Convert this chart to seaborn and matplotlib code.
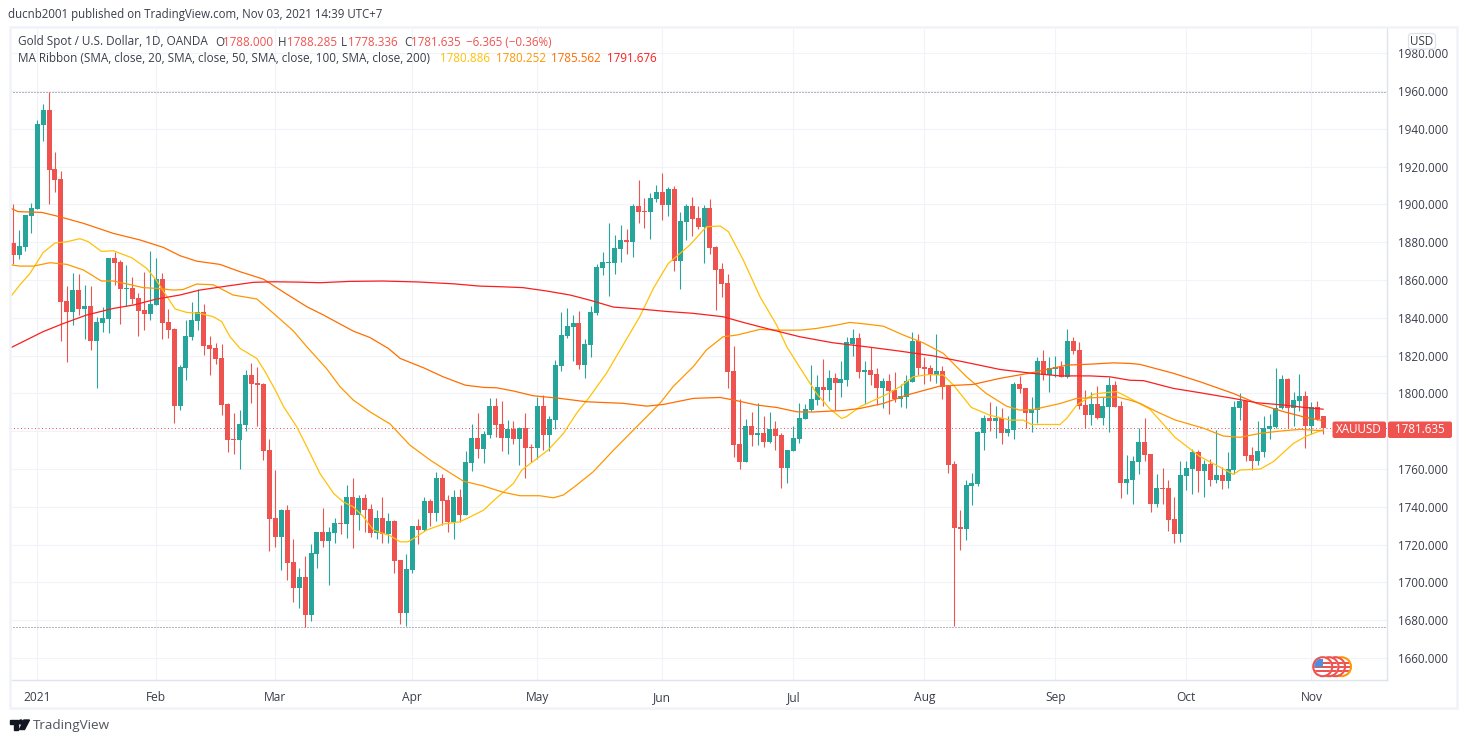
import matplotlib
matplotlib.use("Agg")
import matplotlib.pyplot as plt
import pandas as pd
import seaborn as sns
from matplotlib.patches import Circle, FancyBboxPatch, Polygon, Rectangle

# candle values, one per trading day
opens = [
    1879.6, 1873.2, 1877.5, 1893.9, 1897.6, 1942.0, 1950.0, 1918.7, 1913.4, 1848.9,
    1843.0, 1854.7, 1844.7, 1846.2, 1827.7, 1837.2, 1839.4, 1871.6, 1869.5, 1855.2,
    1855.8, 1850.5, 1844.1, 1842.0, 1846.8, 1860.5, 1837.8, 1834.1, 1793.3, 1813.4,
    1829.8, 1838.3, 1843.0, 1825.6, 1824.0, 1818.7, 1794.4, 1775.9, 1775.3, 1783.3,
    1809.7, 1805.5, 1805.0, 1770.0, 1734.1, 1724.0, 1738.3, 1710.8, 1697.0, 1702.8,
    1682.7, 1715.0, 1726.6, 1721.9, 1726.1, 1731.4, 1730.9, 1745.2, 1735.6, 1744.6,
    1738.8, 1726.1, 1734.1, 1725.6, 1732.5, 1711.8, 1683.8, 1706.5, 1729.8, 1727.7,
    1743.0, 1736.7, 1755.2, 1743.6, 1731.9, 1745.2, 1735.6, 1763.2, 1776.4, 1770.6,
    1778.0, 1793.3, 1783.8, 1776.4, 1781.2, 1775.9, 1781.7, 1771.6, 1771.1, 1793.3,
    1778.0, 1785.9, 1814.5, 1830.4, 1835.1, 1837.3, 1815.0, 1825.6, 1842.5, 1866.4,
    1869.0, 1869.0, 1876.4, 1881.2, 1880.1, 1899.2, 1896.5, 1896.0, 1902.9, 1906.6,
    1899.7, 1908.2, 1870.0, 1890.7, 1899.2, 1892.8, 1888.0, 1898.1, 1877.5, 1865.8,
    1858.4, 1811.9, 1773.2, 1763.7, 1782.8, 1778.0, 1779.0, 1774.3, 1781.2, 1778.0,
    1760.5, 1769.5, 1775.9, 1786.5, 1791.2, 1796.5, 1803.4, 1801.8, 1808.1, 1805.5,
    1807.0, 1826.1, 1829.3, 1811.3, 1812.3, 1810.2, 1802.8, 1806.5, 1801.8, 1797.0,
    1798.0, 1806.0, 1827.7, 1813.9, 1813.4, 1809.7, 1811.8, 1804.4, 1762.6, 1729.3,
    1728.2, 1751.0, 1752.0, 1779.0, 1787.0, 1785.4, 1787.0, 1779.0, 1780.6, 1805.0,
    1802.8, 1789.6, 1791.2, 1817.1, 1809.7, 1812.9, 1813.9, 1808.6, 1827.7, 1822.9,
    1793.8, 1788.5, 1794.4, 1787.0, 1792.8, 1804.4, 1793.3, 1752.6, 1754.2, 1763.7,
    1774.3, 1768.0, 1741.5, 1750.0, 1750.0, 1733.6, 1725.6, 1756.3, 1760.0, 1769.0,
    1759.0, 1762.7, 1754.2, 1756.9, 1753.7, 1759.5, 1792.3, 1796.0, 1767.4, 1764.3,
    1769.0, 1781.2, 1782.3, 1792.3, 1807.7, 1792.3, 1796.0, 1798.7, 1782.8, 1792.8,
    1788.0,
]
closes = [
    1873.2, 1878.0, 1894.4, 1898.1, 1942.5, 1950.0, 1918.2, 1912.9, 1848.4, 1843.0,
    1854.7, 1844.7, 1846.2, 1827.7, 1837.8, 1839.9, 1871.6, 1869.0, 1855.2, 1855.8,
    1850.0, 1843.6, 1842.0, 1847.3, 1860.5, 1837.2, 1833.5, 1793.3, 1814.0, 1830.4,
    1838.8, 1843.0, 1825.0, 1823.5, 1818.2, 1793.8, 1775.3, 1775.3, 1783.8, 1809.7,
    1805.0, 1804.4, 1769.5, 1733.5, 1724.0, 1738.3, 1710.2, 1697.0, 1702.8, 1682.7,
    1715.5, 1726.6, 1721.9, 1726.6, 1731.4, 1730.9, 1745.2, 1735.6, 1744.6, 1738.3,
    1726.1, 1734.1, 1725.6, 1732.5, 1711.3, 1683.8, 1707.1, 1729.8, 1727.7, 1743.0,
    1736.7, 1755.2, 1743.0, 1731.9, 1745.2, 1735.6, 1763.7, 1776.4, 1770.6, 1778.5,
    1793.3, 1783.3, 1776.4, 1781.2, 1775.9, 1781.7, 1771.1, 1771.1, 1793.3, 1778.0,
    1786.5, 1815.0, 1830.9, 1835.7, 1837.3, 1815.0, 1826.1, 1843.1, 1866.9, 1869.5,
    1869.5, 1877.0, 1881.2, 1880.1, 1899.2, 1896.0, 1896.0, 1903.4, 1906.6, 1899.7,
    1908.2, 1870.0, 1891.2, 1899.2, 1892.3, 1888.0, 1898.1, 1877.0, 1865.3, 1857.9,
    1811.3, 1772.7, 1763.7, 1782.8, 1778.0, 1779.0, 1774.3, 1781.2, 1777.5, 1760.5,
    1770.1, 1776.4, 1787.0, 1791.8, 1797.0, 1803.4, 1801.8, 1808.1, 1805.5, 1807.6,
    1827.2, 1829.3, 1811.3, 1812.3, 1809.7, 1802.8, 1806.5, 1801.2, 1797.0, 1798.6,
    1806.5, 1827.7, 1813.4, 1812.9, 1809.7, 1811.8, 1803.4, 1762.1, 1728.7, 1728.2,
    1751.5, 1752.6, 1779.5, 1787.0, 1785.4, 1787.0, 1779.0, 1781.1, 1805.0, 1802.3,
    1789.6, 1791.7, 1817.1, 1809.7, 1813.4, 1813.9, 1808.6, 1827.7, 1822.4, 1793.3,
    1788.5, 1794.4, 1787.0, 1793.3, 1804.4, 1792.8, 1752.6, 1754.7, 1764.3, 1774.3,
    1767.4, 1741.5, 1750.0, 1749.5, 1733.0, 1725.6, 1756.9, 1760.6, 1769.0, 1759.0,
    1762.7, 1754.2, 1756.9, 1753.7, 1760.0, 1792.8, 1796.0, 1766.9, 1764.3, 1769.6,
    1781.7, 1782.8, 1792.3, 1807.7, 1792.3, 1796.5, 1798.7, 1782.8, 1792.8, 1786.5,
    1781.635,
]
highs = [
    1900.2, 1886.5, 1894.4, 1900.7, 1944.7, 1953.1, 1959.5, 1927.7, 1917.7, 1856.8,
    1863.7, 1863.2, 1857.4, 1856.8, 1840.4, 1845.7, 1871.6, 1874.8, 1870.6, 1867.9,
    1861.6, 1853.1, 1864.2, 1875.3, 1871.6, 1863.7, 1844.7, 1834.6, 1815.0, 1838.8,
    1848.3, 1855.2, 1847.3, 1830.3, 1826.6, 1826.1, 1794.9, 1789.6, 1791.2, 1812.4,
    1816.1, 1814.0, 1805.5, 1775.9, 1759.5, 1738.8, 1740.9, 1722.9, 1707.6, 1713.9,
    1720.3, 1726.6, 1739.4, 1729.3, 1734.1, 1741.0, 1751.5, 1755.2, 1746.2, 1746.8,
    1741.5, 1738.3, 1745.2, 1736.7, 1733.0, 1711.8, 1715.0, 1729.8, 1733.5, 1745.2,
    1744.1, 1758.4, 1757.3, 1746.2, 1748.9, 1749.4, 1769.5, 1783.8, 1789.6, 1780.0,
    1797.5, 1797.5, 1796.0, 1786.0, 1785.4, 1782.2, 1789.6, 1773.2, 1798.1, 1799.2,
    1788.0, 1817.7, 1843.1, 1845.2, 1841.5, 1843.6, 1828.8, 1846.2, 1868.5, 1874.8,
    1890.2, 1883.8, 1889.1, 1887.0, 1900.2, 1912.9, 1903.4, 1906.0, 1910.3, 1916.6,
    1909.2, 1909.7, 1896.0, 1900.2, 1903.9, 1899.2, 1899.7, 1902.9, 1878.0, 1869.0,
    1863.2, 1825.1, 1797.0, 1786.5, 1790.2, 1794.9, 1788.0, 1790.2, 1785.4, 1779.0,
    1770.1, 1782.8, 1794.9, 1794.4, 1815.0, 1809.7, 1818.2, 1812.4, 1810.8, 1817.1,
    1829.8, 1834.0, 1831.9, 1817.1, 1824.5, 1813.4, 1808.1, 1810.2, 1811.3, 1805.0,
    1809.7, 1832.5, 1831.4, 1819.2, 1815.0, 1831.4, 1814.5, 1804.4, 1764.2, 1738.3,
    1754.1, 1757.8, 1780.1, 1788.5, 1795.4, 1793.3, 1792.2, 1788.0, 1806.0, 1809.2,
    1802.8, 1798.0, 1819.2, 1822.9, 1819.2, 1819.8, 1817.1, 1834.0, 1829.8, 1827.2,
    1801.8, 1800.7, 1803.9, 1798.1, 1808.6, 1806.5, 1796.0, 1767.4, 1766.9, 1781.7,
    1787.0, 1768.0, 1757.4, 1760.6, 1754.2, 1745.2, 1764.3, 1764.3, 1770.6, 1770.1,
    1764.8, 1765.3, 1780.7, 1761.1, 1769.0, 1796.0, 1800.2, 1796.0, 1771.7, 1785.4,
    1788.0, 1789.1, 1813.5, 1809.8, 1808.2, 1800.8, 1810.3, 1801.3, 1795.5, 1796.0,
    1788.285,
]
lows = [
    1868.5, 1871.1, 1875.3, 1884.9, 1897.6, 1933.5, 1900.2, 1906.6, 1827.7, 1816.6,
    1836.2, 1841.5, 1828.8, 1823.0, 1803.0, 1832.5, 1831.9, 1857.4, 1836.7, 1846.2,
    1847.3, 1830.2, 1833.5, 1838.8, 1846.8, 1828.8, 1829.3, 1784.5, 1791.2, 1807.1,
    1828.2, 1833.5, 1820.3, 1809.7, 1815.5, 1788.6, 1769.0, 1767.9, 1760.0, 1780.1,
    1794.9, 1782.7, 1764.7, 1716.6, 1718.7, 1706.5, 1701.2, 1689.6, 1686.4, 1676.2,
    1679.6, 1707.6, 1718.7, 1698.6, 1720.8, 1725.6, 1723.5, 1718.2, 1727.7, 1726.6,
    1724.0, 1723.0, 1720.8, 1720.8, 1705.0, 1678.0, 1676.9, 1705.0, 1720.3, 1727.2,
    1729.8, 1732.5, 1730.4, 1726.6, 1722.9, 1731.9, 1735.6, 1758.9, 1765.8, 1763.2,
    1776.4, 1776.9, 1769.5, 1767.9, 1773.2, 1762.1, 1755.2, 1763.7, 1765.3, 1770.1,
    1769.5, 1781.2, 1811.9, 1829.3, 1817.2, 1812.9, 1808.2, 1819.3, 1841.5, 1862.7,
    1851.5, 1863.2, 1869.5, 1873.8, 1872.2, 1890.2, 1887.5, 1881.7, 1901.3, 1891.8,
    1893.9, 1864.8, 1855.2, 1881.2, 1883.3, 1887.0, 1869.0, 1873.8, 1844.1, 1851.0,
    1802.9, 1766.4, 1760.0, 1763.7, 1772.2, 1772.7, 1771.6, 1773.8, 1770.1, 1750.0,
    1752.6, 1769.5, 1773.8, 1786.5, 1790.7, 1793.9, 1793.3, 1796.0, 1791.2, 1798.1,
    1803.9, 1819.8, 1808.1, 1794.4, 1804.4, 1793.8, 1792.2, 1789.1, 1795.4, 1792.8,
    1792.2, 1806.0, 1809.7, 1805.0, 1806.5, 1805.5, 1797.0, 1757.8, 1676.9, 1717.1,
    1722.4, 1740.9, 1751.0, 1770.0, 1780.1, 1776.4, 1773.2, 1777.4, 1775.8, 1800.2,
    1781.7, 1779.5, 1784.3, 1807.1, 1800.7, 1808.6, 1808.6, 1808.1, 1820.8, 1791.7,
    1781.7, 1783.2, 1786.4, 1783.2, 1779.5, 1792.8, 1744.6, 1746.7, 1741.5, 1757.4,
    1764.3, 1737.3, 1739.9, 1741.5, 1727.2, 1720.9, 1721.4, 1748.9, 1746.8, 1747.9,
    1745.2, 1751.0, 1752.6, 1749.5, 1750.0, 1757.4, 1786.0, 1764.3, 1759.5, 1762.2,
    1766.4, 1775.9, 1781.7, 1791.8, 1781.7, 1782.8, 1790.7, 1771.1, 1778.6, 1786.0,
    1778.336,
]

# moving averages, read at the bends of each line (candle number, price)
ma20_idx = [-1, 1.1, 2.8, 5, 7, 9, 11.2, 12.6, 14.8, 16.8, 19.9, 22.4, 24, 26, 27.2, 29.1, 31.3, 33.6, 35, 36.4,
            38.1, 40.9, 42.3, 44, 45.4, 47.6, 49.3, 51.5, 53.8, 55.4, 57.1, 58.8, 60.5, 63.3, 65, 66.3, 67.7, 69.4,
            72.2, 75, 77.3, 79, 80.9, 84, 85.4, 89.8, 92.4, 94.6, 96.8, 99.6, 102.4, 105.2, 107.5, 110, 113.6, 116.4,
            118.7, 120.1, 122.6, 125.4, 128.2, 129.9, 132.1, 134.9, 137.1, 139.1, 139.9, 142.2, 146.7, 148.9, 151.1,
            153.7, 156.2, 157.9, 160.9, 164, 167.4, 169.6, 171, 175.8, 176.9, 178.6, 181.4, 183.6, 185.3, 188.1,
            190.9, 195.1, 199.3, 204.9, 206, 209.4, 211.6, 215, 217.2, 220]
ma20 = [1849, 1857.4, 1863.5, 1874.5, 1879.6, 1880.3, 1881.9, 1880.3, 1875.2, 1875.5, 1871.8, 1866.2, 1860, 1850.3,
        1844.7, 1842.9, 1842.4, 1840.6, 1838, 1830, 1823.8, 1818.5, 1811.5, 1801.8, 1793, 1782.4, 1771.8, 1757.7,
        1747.1, 1742.7, 1740, 1734.8, 1727.7, 1724.7, 1721.5, 1721.5, 1724.2, 1727.7, 1730.9, 1732.1, 1735.6, 1738.3,
        1744, 1752.4, 1759.5, 1770, 1778.9, 1789.5, 1798.3, 1810.6, 1825.6, 1840.6, 1855.6, 1868.8, 1878.5, 1888.2,
        1888.6, 1885.6, 1870.6, 1851.2, 1836.2, 1824.7, 1813.7, 1800, 1792, 1786.8, 1787.7, 1793, 1799.6, 1803.5,
        1808.8, 1810, 1809.7, 1804.4, 1792.6, 1788.5, 1785.9, 1785.9, 1783.6, 1783.6, 1786.8, 1793.8, 1799.6, 1800.5,
        1801, 1796.5, 1791.6, 1776.8, 1766.6, 1757.2, 1759.5, 1760, 1763.9, 1773.6, 1777.5, 1780.886]

ma50_idx = [-1, 1.1, 3.4, 6.2, 9, 11.8, 14.8, 16.8, 19.9, 21.8, 24.1, 26.9, 28.5, 30.8, 33.6, 36.9, 40.9, 43.7, 47,
            49.3, 52.6, 54.9, 57.1, 59.9, 63.3, 66.6, 70, 72.2, 75.6, 79, 82.3, 85.1, 88.4, 90.7, 92.4, 94.6, 97.4,
            100.8, 104.7, 108.6, 110.8, 114.2, 116.4, 119.2, 121.5, 125.4, 128.8, 132.1, 134.9, 138.3, 140.5, 143.3,
            146.1, 149.5, 152.8, 156.2, 160.1, 163.4, 166.8, 169, 171.3, 175.8, 178.6, 182.5, 185.3, 187.5, 189.2,
            192, 195.1, 199.9, 203.2, 206, 209.4, 212.7, 216.1, 220]
ma50 = [1868.3, 1867.4, 1867.4, 1869.2, 1868.3, 1865.3, 1859.5, 1859.5, 1857.4, 1856, 1855.6, 1854.7, 1855, 1857.9,
        1857.5, 1852.1, 1850, 1842.4, 1833.2, 1824.7, 1813.2, 1803.5, 1796.5, 1790.3, 1783.8, 1772.7, 1764.8, 1760.3,
        1753.6, 1751, 1747.7, 1745.9, 1745.9, 1744.8, 1746.3, 1751.5, 1758.6, 1770, 1782.4, 1794.8, 1803.6, 1814.2,
        1823, 1830, 1830.9, 1833.9, 1833.5, 1833.5, 1834.4, 1836.2, 1837.6, 1836.7, 1835.6, 1830.9, 1826.8, 1821.2,
        1808.8, 1800, 1793.3, 1791.2, 1791.5, 1794.7, 1797.4, 1797.9, 1798.2, 1796.5, 1794.8, 1790.4, 1786, 1781.6,
        1777.5, 1776.8, 1778.9, 1780.1, 1781, 1780.252]

ma100_idx = [-1, 0.8, 4.8, 7.8, 11.8, 16.8, 21.3, 25.2, 28, 30.8, 34.7, 38.1, 42, 45.3, 49.3, 52.1, 57.1, 59.9, 63, 65,
             68.9, 72.2, 75.9, 79, 81.2, 84, 87.3, 91.8, 96.3, 102.4, 106.4, 109.2, 114.2, 118.7, 121.5, 124.8, 128.2,
             131.6, 134.3, 139.4, 142.2, 146.1, 150, 155.6, 161.2, 165.7, 171.3, 176.9, 180.8, 184.7, 187.5, 189.2,
             194.8, 199.3, 204.9, 208.8, 213.3, 216.6, 220]
ma100 = [1898.8, 1896.2, 1895.8, 1893.5, 1890, 1884.7, 1881.2, 1877.3, 1872.9, 1870, 1868.3, 1864.4, 1860.5, 1853.8,
         1845.9, 1841.5, 1833, 1829.6, 1823.8, 1818.5, 1813.6, 1808.8, 1804.4, 1803.2, 1803, 1801.3, 1798.8, 1797.4,
         1795.6, 1794.8, 1793.3, 1794.2, 1797.4, 1797.9, 1796.2, 1793.9, 1792.6, 1790.3, 1790.2, 1791, 1792.1, 1794.7,
         1799.1, 1803.9, 1804.8, 1808, 1811.1, 1815, 1815.5, 1816.2, 1815.9, 1815.4, 1810.7, 1806.2, 1800, 1794.8,
         1790.4, 1787.7, 1785.562]

ma200_idx = [-1, 2.2, 5, 8.4, 12.3, 16.8, 20.2, 24.1, 28, 31.3, 35.8, 40.3, 43.7, 48.1, 51.5, 56.5, 62, 68, 74, 78.4,
             81.7, 85.6, 89.6, 93.5, 96.8, 100.8, 105.2, 109.7, 114.2, 119.2, 122.6, 126.5, 132.1, 137.7, 143.3,
             148.9, 154.5, 160.1, 165.7, 171.3, 175.8, 180.8, 184.2, 187.5, 189.8, 194.8, 199.3, 204.9, 208.8, 213.3,
             216.6, 220]
ma200 = [1823.3, 1828.3, 1832.7, 1837, 1841.5, 1845, 1846.8, 1850, 1852.1, 1854.7, 1856.8, 1858.8, 1859.1, 1858.9,
         1858.6, 1859.3, 1859.5, 1859, 1858, 1856.8, 1856.5, 1856, 1854.2, 1852.1, 1849.4, 1845.7, 1844.7, 1843.4,
         1842.4, 1840.6, 1837.6, 1834.4, 1830, 1826.8, 1824.7, 1822.4, 1819.9, 1816.4, 1812.7, 1810.6, 1809.3, 1809.3,
         1808.8, 1807, 1806.8, 1802.7, 1800.4, 1797.4, 1795.1, 1793.9, 1792.7, 1791.676]

month_starts = [4, 24, 44, 67, 88, 109, 131, 153, 175, 197, 218]
month_labels = ["2021", "Feb", "Mar", "Apr", "May", "Jun", "Jul", "Aug", "Sep", "Oct", "Nov"]
price_ticks = list(range(1660, 2000, 20))

UP = "#26a69a"
DOWN = "#ef5350"
GRID = "#f0f3fa"
BORDER = "#e0e3eb"
TEXT = "#3a3e4a"
MA_COLORS = ["#ffc107", "#ff9800", "#ff6d00", "#fa1e1e"]

sns.set_theme(style="white")
plt.rcParams["font.family"] = ["Open Sans", "DejaVu Sans"]
FS = 8.35
FS_LEGEND = 8.45

W, H = 1467, 743
fig = plt.figure(figsize=(W / 100, H / 100), dpi=100, facecolor="white")
ax = fig.add_axes([10 / W, 1 - 680 / H, (1387 - 10) / W, (680 - 27) / H])

# candles
days = list(range(len(opens)))
df = pd.DataFrame({"day": days, "open": opens, "high": highs, "low": lows, "close": closes})
df["color"] = [UP if c >= o else DOWN for o, c in zip(df["open"], df["close"])]
df["top"] = df[["open", "close"]].max(axis=1)
df["bottom"] = df[["open", "close"]].min(axis=1)
ax.vlines(df["day"], df["low"], df["high"], colors=df["color"], linewidth=0.8, zorder=3)
ax.bar(df["day"], (df["top"] - df["bottom"]).clip(lower=0.6), bottom=df["bottom"], width=0.84,
       color=df["color"], linewidth=0, zorder=3)

# high / low / last price dotted lines
ax.axhline(max(highs), color="#6a6d78", linewidth=0.72, linestyle=(0, (1, 2)), zorder=2)
ax.axhline(min(lows), color="#6a6d78", linewidth=0.72, linestyle=(0, (1, 2)), zorder=2)
ax.axhline(closes[-1], color=DOWN, linewidth=0.72, linestyle=(0, (1, 2.5)), zorder=2)

# MA ribbon
for idx, vals, col in zip([ma20_idx, ma50_idx, ma100_idx, ma200_idx], [ma20, ma50, ma100, ma200], MA_COLORS):
    ma_df = pd.DataFrame({"day": idx, "ma": vals})
    sns.lineplot(data=ma_df, x="day", y="ma", color=col, linewidth=0.9, sort=False, errorbar=None,
                 legend=False, ax=ax, zorder=4)

ax.set_xlim(-0.55, 230.7)
ax.set_ylim(1648.4, 1993.9)
ax.set_xticks(month_starts)
ax.set_xticklabels(month_labels)
ax.set_yticks(price_ticks)
# the 1780 label sits behind the last price tag in the original, so it stays blank
ax.set_yticklabels(["" if p == 1780 else f"{p}.000" for p in price_ticks])
ax.yaxis.tick_right()
ax.set_xlabel("")
ax.set_ylabel("")
ax.tick_params(axis="x", length=0, pad=8, labelsize=FS + 0.3, colors=TEXT)
ax.tick_params(axis="y", length=0, pad=8, labelsize=FS, colors=TEXT)
ax.grid(True, color=GRID, linewidth=0.8, zorder=0)
ax.set_axisbelow(True)
for side in ["left", "top"]:
    ax.spines[side].set_visible(False)
for side in ["right", "bottom"]:
    ax.spines[side].set_color(BORDER)
    ax.spines[side].set_linewidth(1.0)

# overlay in pixel units for the TradingView furniture
ov = fig.add_axes([0, 0, 1, 1], facecolor="none")
ov.set_xlim(0, W)
ov.set_ylim(H, 0)
ov.axis("off")
ov.add_patch(Rectangle((10, 27), 1446.5, 681, fill=False, edgecolor=GRID, linewidth=1.8))

ov.text(8, 14.5, "ducnb2001 published on TradingView.com, Nov 03, 2021 14:39 UTC+7",
        fontsize=8.3, color=TEXT, va="center")

# legend rows
ov.text(18, 42, "Gold Spot / U.S. Dollar, 1D, OANDA", fontsize=FS_LEGEND, color=TEXT, va="center")
for x, s, c in [(215, "O", TEXT), (223, f"{opens[-1]:.3f}", DOWN), (278, "H", TEXT), (287, f"{highs[-1]:.3f}", DOWN),
                (341, "L", TEXT), (348, f"{lows[-1]:.3f}", DOWN), (404, "C", TEXT), (411, f"{closes[-1]:.3f}", DOWN),
                (466, "\u22126.365 (\u22120.36%)", DOWN)]:
    ov.text(x, 42, s, fontsize=FS, color=c, va="center")
ov.text(18, 58.5, "MA Ribbon (SMA, close, 20, SMA, close, 50, SMA, close, 100, SMA, close, 200)",
        fontsize=FS_LEGEND, color=TEXT, va="center")
for x, v, c in zip([440, 496, 551, 607], [ma20[-1], ma50[-1], ma100[-1], ma200[-1]], MA_COLORS):
    ov.text(x, 58.5, f"{v:.3f}", fontsize=FS, color=c, va="center")

# USD chip
ov.add_patch(FancyBboxPatch((1408.5, 33.5), 27, 15.5, boxstyle="round,pad=0,rounding_size=3",
                            facecolor="white", edgecolor=BORDER, linewidth=0.9, zorder=5))
ov.text(1422, 41.5, "USD", fontsize=FS, color=TEXT, ha="center", va="center", zorder=6)

# last price tags
ov.add_patch(FancyBboxPatch((1332.5, 421.5), 53.5, 16.5, boxstyle="round,pad=0,rounding_size=2",
                            facecolor=DOWN, edgecolor="none", zorder=5))
ov.add_patch(FancyBboxPatch((1388, 421.5), 64, 16.5, boxstyle="round,pad=0,rounding_size=2",
                            facecolor=DOWN, edgecolor="none", zorder=5))
ov.text(1359, 429.7, "XAUUSD", fontsize=FS, color="white", ha="center", va="center", zorder=6)
ov.text(1420, 429.7, f"{closes[-1]:.3f}", fontsize=FS, color="white", ha="center", va="center", zorder=6)


def flag(cx, cy, ring):
    c = Circle((cx, cy), 9.5, facecolor="white", edgecolor=ring, linewidth=1.5, zorder=7)
    ov.add_patch(c)
    for sy in [cy - 5, cy - 1, cy + 3]:
        s = Rectangle((cx - 10, sy), 20, 2.2, facecolor=DOWN, edgecolor="none", zorder=7)
        ov.add_patch(s)
        s.set_clip_path(Circle((cx, cy), 8.5, transform=ov.transData))
    b = Rectangle((cx - 9, cy - 8), 9, 8, facecolor="#4a90e2", edgecolor="none", zorder=7)
    ov.add_patch(b)
    b.set_clip_path(Circle((cx, cy), 8.5, transform=ov.transData))


# flag bubbles, back to front
for cx, ring in [(1341.5, "#ff9800"), (1335.5, DOWN), (1329, DOWN), (1322.7, DOWN)]:
    flag(cx, 666.7, ring)

# TradingView logo
ov.add_patch(Polygon([(10, 720), (18.3, 720), (18.3, 729.5), (14, 729.5), (14, 724), (10, 724)], color="#131722"))
ov.add_patch(Circle((20.8, 722), 2, color="#131722"))
ov.add_patch(Polygon([(24, 720), (29.5, 720), (24.5, 729.5), (19.5, 729.5)], color="#131722"))
ov.text(33, 725.5, "TradingView", fontsize=9.7, color="#50535e", va="center")

fig.savefig("out.png", dpi=100)
